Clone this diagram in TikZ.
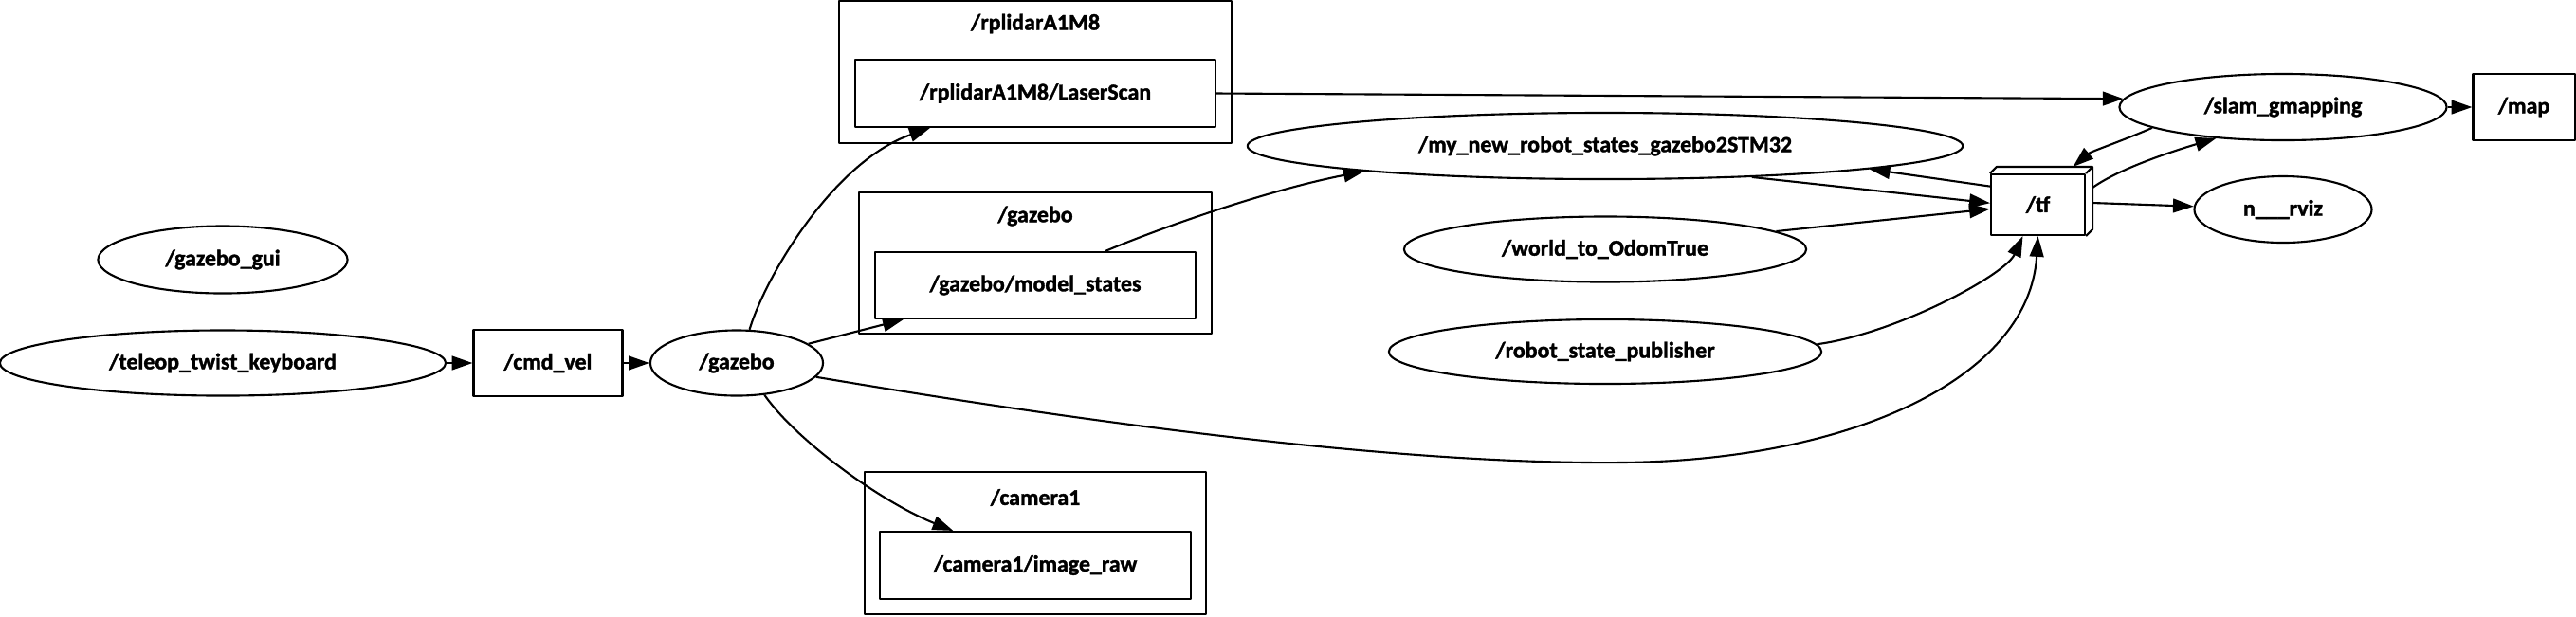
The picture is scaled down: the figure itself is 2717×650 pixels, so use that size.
\documentclass[tikz,border=0pt]{standalone}
\usepackage{fontspec}
\setmainfont{Carlito}[FakeBold=1.5]
\usepackage{tikz}
\usetikzlibrary{arrows.meta,shapes.geometric,calc}
\definecolor{rqedge}{RGB}{0,0,0}
\tikzset{
  rqbox/.style={draw=rqedge, line width=0.6pt, inner sep=0pt, align=center},
  topic/.style={rqbox, rectangle},
  rnode/.style={rqbox, ellipse},
  clus/.style={draw=rqedge, line width=0.6pt},
  arr/.style={-{Triangle[length=6.2pt,width=4.2pt]}, draw=rqedge, line width=0.6pt},
  every picture/.append style={font=\fontsize{6.8}{8}\selectfont\bfseries, line join=round}
}

\begin{document}
\begin{tikzpicture}[x=0.01cm,y=-0.01cm]
  \useasboundingbox (0,0) rectangle (2717,650);
  % ros nodes
  \node[rnode, minimum width=2.63cm, minimum height=0.71cm] (gzgui) at (235,274) {/gazebo\_gui};
  \node[rnode, minimum width=4.70cm, minimum height=0.69cm] (teleop) at (235,383) {/teleop\_twist\_keyboard};
  \node[topic, minimum width=1.57cm, minimum height=0.70cm] (cmdvel) at (578,383) {/cmd\_vel};
  \node[rnode, minimum width=1.82cm, minimum height=0.69cm] (gazebo) at (777,383) {/gazebo};
  % namespace groups
  \node[clus, minimum width=4.14cm, minimum height=1.50cm] (lidarC) at (1092,76) {};
  \node (lidarT) at (1092,25) {/rplidarA1M8};
  \node[topic, minimum width=3.80cm, minimum height=0.71cm] (scan) at (1092,98.5) {/rplidarA1M8/LaserScan};
  \node[clus, minimum width=3.72cm, minimum height=1.49cm] (gzC) at (1092,277.5) {};
  \node (gzT) at (1092,228) {/gazebo};
  \node[topic, minimum width=3.38cm, minimum height=0.70cm] (mstates) at (1092,301) {/gazebo/model\_states};
  \node[clus, minimum width=3.60cm, minimum height=1.50cm] (camC) at (1092,573) {};
  \node (camT) at (1092,525) {/camera1};
  \node[topic, minimum width=3.27cm, minimum height=0.71cm] (imgraw) at (1092,596.5) {/camera1/image\_raw};
  % right half
  \node[rnode, minimum width=7.54cm, minimum height=0.70cm] (mynew) at (1693,154) {/my\_new\_robot\_states\_gazebo2STM32};
  \node[rnode, minimum width=4.24cm, minimum height=0.69cm] (w2odom) at (1693,263) {/world\_to\_OdomTrue};
  \node[rnode, minimum width=4.56cm, minimum height=0.68cm] (rsp) at (1693,371) {/robot\_state\_publisher};
  \node[topic, minimum width=0.99cm, minimum height=0.64cm] (tf) at (2149.5,216) {/tf};
  \draw[clus] (tf.north west) -- ++(7,-7) -- ($(tf.north east)+(7,-7)$) -- ($(tf.south east)+(7,-7)$) -- (tf.south east);
  \draw[clus] (tf.north east) -- ++(7,-7);
  \node[rnode, minimum width=3.45cm, minimum height=0.70cm] (slam) at (2408,113) {/slam\_gmapping};
  \node[topic, minimum width=1.07cm, minimum height=0.70cm] (map) at (2662,113) {/map};
  \node[rnode, minimum width=1.87cm, minimum height=0.70cm] (rviz) at (2408,221) {n\_\_\_rviz};
  % edges
  \draw[arr] (teleop.east) -- (cmdvel.west);
  \draw[arr] (cmdvel.east) -- (gazebo.west);
  \draw[arr] (gazebo.69) .. controls (808,290) and (880,170) .. ($(scan.south west)+(80,0)$);
  \draw[arr] (gazebo.15) -- ($(mstates.south west)+(31,0)$);
  \draw[arr] (gazebo.-49) .. controls (840,465) and (930,530) .. ($(imgraw.north west)+(78,0)$);
  \draw[arr] (gazebo.-10) .. controls (1200,455) and (1500,490) .. (1710,488)
    .. controls (1950,486) and (2140,400) .. (tf.south);
  \draw[arr] (scan.east) -- (slam.177);
  \draw[arr] ($(mstates.north west)+(244,0)$) .. controls (1230,238) and (1340,200) .. (mynew.186);
  \draw[arr] (mynew.-12) -- (tf.178);
  \draw[arr] (tf.159) -- (mynew.-5);
  \draw[arr] (w2odom.6) -- (tf.185);
  \draw[arr] (rsp.2) .. controls (2000,352) and (2115,290) .. ($(tf.south)+(-16,0)$);
  \draw[arr] ($(tf.east)+(7,-18)$) .. controls (2235,178) and (2290,160) .. (slam.205);
  \draw[arr] (slam.189) .. controls (2240,148) and (2205,160) .. ($(tf.north)+(37,-7)$);
  \draw[arr] ($(tf.east)+(7,-2)$) -- (rviz.178);
  \draw[arr] (slam.east) -- (map.west);
\end{tikzpicture}
\end{document}
